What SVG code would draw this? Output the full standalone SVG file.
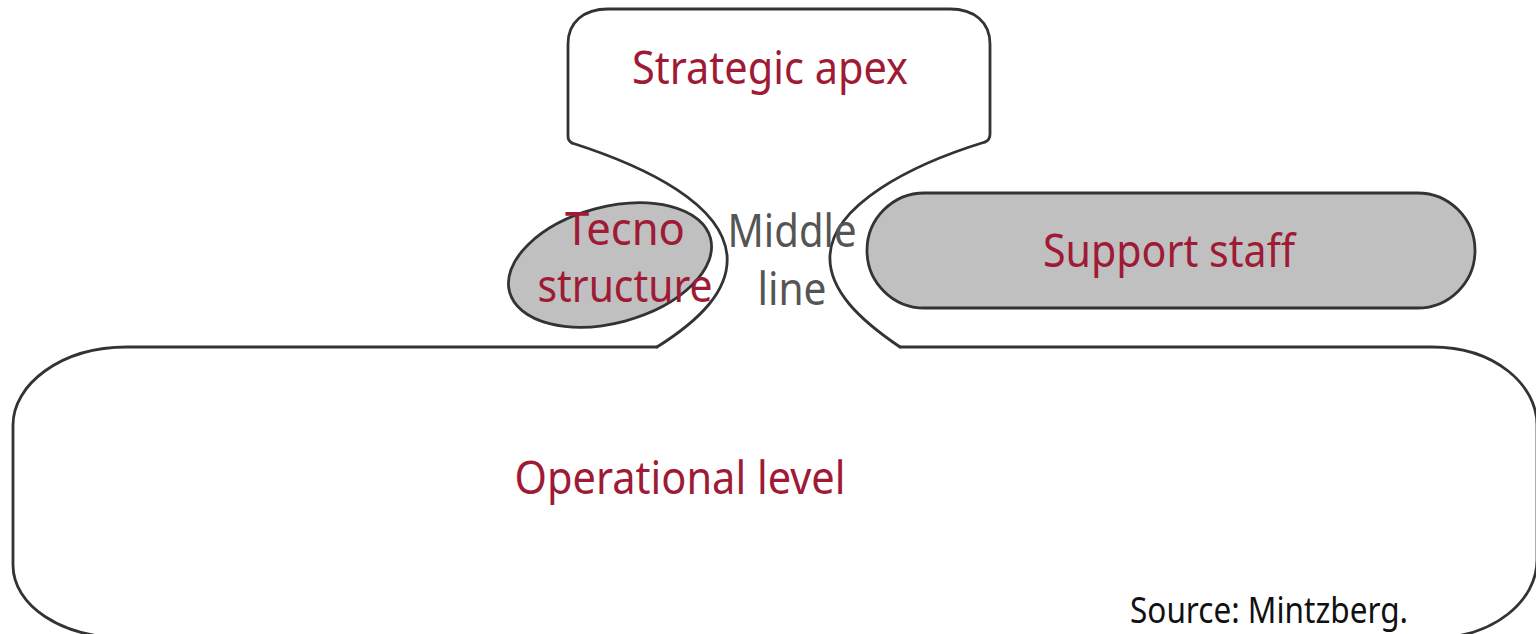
<svg xmlns="http://www.w3.org/2000/svg" width="1536" height="634" viewBox="0 0 1536 634">
<style>
.ol{fill:none;stroke:#333;stroke-width:2.8;stroke-linecap:round;stroke-linejoin:round}
.gr{fill:#c0c0c0;stroke:#333;stroke-width:2.8}
.lb{font-family:"Noto Sans","Open Sans",sans-serif;font-size:45px;fill:#9e1a35;text-anchor:middle}
.ml{font-family:"Noto Sans","Open Sans",sans-serif;font-size:45px;fill:#555;text-anchor:middle}
.src{font-family:"Noto Sans","Open Sans",sans-serif;font-size:36px;fill:#111;text-anchor:middle}
</style>
<rect width="1536" height="634" fill="#fff"/>
<g id="operational-level">
<path class="ol" d="M657,347 L127,347 C60,347 13,385 13,425 L13,565 C13,605 60,638 127,638 L1432,638 C1495,638 1537,600 1537,560 L1537,425 C1537,385 1495,347 1432,347 L900,347"/>
<text class="lb" x="680" y="494" textLength="331" lengthAdjust="spacingAndGlyphs">Operational level</text>
</g>
<g id="strategic-apex">
<path class="ol" d="M572,143 Q568,141 568,136 L568,44 C568,22 584,9 608,9 L950,9 C974,9 990,22 990,44 L990,134 Q990,140 985,142"/>
<text class="lb" x="770" y="84" textLength="276" lengthAdjust="spacingAndGlyphs">Strategic apex</text>
</g>
<g id="middle-line">
<path class="ol" d="M572,143 C650,168 722,205 727,255 C730,290 700,320 657,347"/>
<path class="ol" d="M985,142 C910,165 833,205 830,255 C828,290 860,320 900,347"/>
<text class="ml" x="792" y="247" textLength="129" lengthAdjust="spacingAndGlyphs">Middle</text>
<text class="ml" x="792" y="305" textLength="69" lengthAdjust="spacingAndGlyphs">line</text>
</g>
<g id="technostructure">
<ellipse class="gr" cx="610" cy="265" rx="104" ry="58" transform="rotate(-15 610 265)"/>
<text class="lb" x="625" y="245" textLength="120" lengthAdjust="spacingAndGlyphs">Tecno</text>
<text class="lb" x="625" y="302" textLength="175" lengthAdjust="spacingAndGlyphs">structure</text>
</g>
<g id="support-staff">
<rect class="gr" x="867" y="193" width="608" height="115" rx="57.5"/>
<text class="lb" x="1169" y="267" textLength="252" lengthAdjust="spacingAndGlyphs">Support staff</text>
</g>
<g id="connectors"></g>
<text class="src" x="1269" y="623" textLength="278" lengthAdjust="spacingAndGlyphs">Source: Mintzberg.</text>
</svg>
